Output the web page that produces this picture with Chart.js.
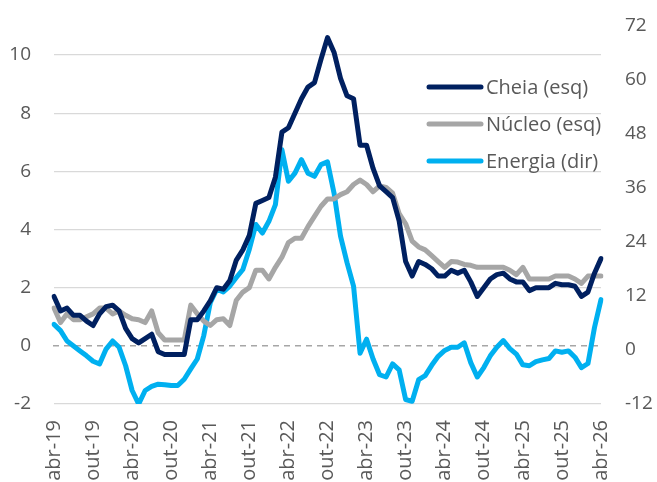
<!DOCTYPE html>
<html>
<head>
<meta charset="utf-8">
<script src="https://cdn.jsdelivr.net/npm/chart.js@4.4.1/dist/chart.umd.min.js"></script>
<style>
html, body { margin: 0; padding: 0; background: #fff; }
#wrap { width: 657px; height: 482px; }
</style>
</head>
<body>
<div id="wrap"><canvas id="inflChart" width="657" height="482"></canvas></div>
<script>
// =======================
// Dados (abr-19 a abr-26, mensal)
// =======================

const monthNames = ["jan","fev","mar","abr","mai","jun","jul","ago","set","out","nov","dez"];

const cheia = [
    1.7, 1.2, 1.3, 1.05, 1.05, 0.85, 0.7, 1.1, 1.35, 1.4, 1.2, 0.6,
    0.25, 0.1, 0.25, 0.4, -0.2, -0.3, -0.3, -0.3, -0.3, 0.9, 0.9, 1.2,
    1.55, 2.0, 1.95, 2.25, 2.95, 3.3, 3.8, 4.9, 5.0, 5.1, 5.8, 7.35,
    7.5, 8.0, 8.5, 8.9, 9.05, 9.85, 10.6, 10.1, 9.2, 8.6, 8.5, 6.9,
    6.9, 6.1, 5.5, 5.3, 5.1, 4.3, 2.9, 2.4, 2.9, 2.8, 2.65, 2.4,
    2.4, 2.6, 2.5, 2.6, 2.2, 1.7, 2.0, 2.3, 2.45, 2.5, 2.3, 2.2,
    2.2, 1.9, 2.0, 2.0, 2.0, 2.15, 2.1, 2.1, 2.05, 1.7, 1.85, 2.5,
    3.0
];

const nucleo = [
    1.3, 0.8, 1.1, 0.9, 0.9, 1.0, 1.1, 1.3, 1.3, 1.1, 1.2, 1.05,
    0.93, 0.9, 0.8, 1.2, 0.45, 0.2, 0.2, 0.2, 0.2, 1.4, 1.1, 0.85,
    0.7, 0.9, 0.93, 0.7, 1.57, 1.85, 2.0, 2.6, 2.6, 2.3, 2.7, 3.05,
    3.55, 3.7, 3.7, 4.1, 4.45, 4.8, 5.05, 5.05, 5.2, 5.3, 5.55, 5.7,
    5.55, 5.3, 5.5, 5.45, 5.25, 4.55, 4.2, 3.6, 3.4, 3.3, 3.1, 2.9,
    2.7, 2.9, 2.88, 2.8, 2.77, 2.7, 2.7, 2.7, 2.7, 2.7, 2.6, 2.45,
    2.7, 2.3, 2.3, 2.3, 2.3, 2.4, 2.4, 2.4, 2.3, 2.15, 2.4, 2.4,
    2.4
];

const energia = [
    5.7, 4.3, 2.0, 0.9, -0.2, -1.3, -2.5, -3.1, 0.2, 2.0, 0.6, -3.5,
    -9.0, -12.0, -9.0, -8.1, -7.6, -7.7, -7.9, -7.9, -6.5, -4.2, -2.0, 3.2,
    10.5, 13.5, 12.9, 14.2, 16.1, 17.9, 22.4, 27.9, 26.0, 28.6, 32.3, 44.5,
    37.5, 39.3, 42.3, 39.3, 38.6, 41.2, 41.8, 34.9, 25.3, 19.4, 14.2, -0.7,
    2.4, -2.0, -5.5, -6.0, -3.1, -4.4, -11.0, -11.4, -6.6, -5.7, -3.4, -1.4,
    -0.1, 0.6, 0.6, 1.6, -2.8, -6.0, -3.9, -1.3, 0.6, 2.1, 0.3, -0.9,
    -3.3, -3.5, -2.6, -2.2, -1.9, -0.2, -0.5, -0.2, -1.6, -3.9, -3.0, 5.0,
    11.2
];

const leftTicks = [-2, 0, 2, 4, 6, 8, 10];
const rightTicks = [-12, 0, 12, 24, 36, 48, 60, 72];

const seriesNames = ["Cheia (esq)", "Núcleo (esq)", "Energia (dir)"];
const seriesColors = ["#002060", "#a6a6a6", "#00b0f0"];

// rótulos mensais a partir de abr-19
const labels = [];
for (let i = 0; i < cheia.length; i++) {
    const m = (3 + i) % 12;
    const y = 19 + Math.floor((3 + i) / 12);
    labels.push(monthNames[m] + "-" + y);
}

const FONT = "'Open Sans', 'Noto Sans', sans-serif";
const TEXT = "#595959";

// linha tracejada no zero
const zeroLine = {
    id: "zeroLine",
    beforeDatasetsDraw(chart) {
        const y = chart.scales.y.getPixelForValue(0);
        const a = chart.chartArea;
        const ctx = chart.ctx;
        ctx.save();
        ctx.strokeStyle = "#a6a6a6";
        ctx.lineWidth = 1.5;
        ctx.setLineDash([6, 5]);
        ctx.beginPath();
        ctx.moveTo(a.left - 1, y);
        ctx.lineTo(a.right + 1, y);
        ctx.stroke();
        ctx.restore();
    }
};

// legenda dentro da área do gráfico
const insideLegend = {
    id: "insideLegend",
    afterDatasetsDraw(chart) {
        const ctx = chart.ctx;
        ctx.save();
        ctx.font = "20px " + FONT;
        ctx.textBaseline = "middle";
        ctx.textAlign = "left";
        chart.data.datasets.forEach((ds, i) => {
            const y = 87 + i * 37;
            ctx.strokeStyle = ds.borderColor;
            ctx.lineWidth = 5;
            ctx.lineCap = "round";
            ctx.beginPath();
            ctx.moveTo(429, y);
            ctx.lineTo(481, y);
            ctx.stroke();
            ctx.fillStyle = TEXT;
            ctx.fillText(ds.label, 486, y + 1);
        });
        ctx.restore();
    }
};

const lineStyle = {
    borderWidth: 5,
    pointRadius: 0,
    tension: 0,
    fill: false,
    borderJoinStyle: "round",
    borderCapStyle: "round"
};

function fitVertical(width) {
    return function (scale) {
        scale.width = width;
        scale.paddingTop = 0;
        scale.paddingBottom = 0;
    };
}

new Chart(document.getElementById("inflChart"), {
    type: "line",
    data: {
        labels: labels,
        datasets: [
            Object.assign({ label: seriesNames[0], data: cheia, borderColor: seriesColors[0], backgroundColor: seriesColors[0], yAxisID: "y" }, lineStyle),
            Object.assign({ label: seriesNames[1], data: nucleo, borderColor: seriesColors[1], backgroundColor: seriesColors[1], yAxisID: "y" }, lineStyle),
            Object.assign({ label: seriesNames[2], data: energia, borderColor: seriesColors[2], backgroundColor: seriesColors[2], yAxisID: "y2" }, lineStyle)
        ]
    },
    options: {
        responsive: false,
        animation: false,
        layout: { padding: { top: 26, left: 0, right: 0, bottom: 0 } },
        plugins: {
            legend: { display: false },
            tooltip: { enabled: false }
        },
        scales: {
            x: {
                offset: false,
                grid: { display: false, drawTicks: false },
                border: { display: false },
                afterFit(scale) { scale.height = 78; },
                ticks: {
                    autoSkip: false,
                    maxRotation: 90,
                    minRotation: 90,
                    padding: 16,
                    color: TEXT,
                    font: { family: FONT, size: 20 },
                    callback(value, index) {
                        return index % 6 === 0 ? labels[index] : "";
                    }
                }
            },
            y: {
                position: "left",
                min: -2,
                max: 11,
                afterBuildTicks(scale) { scale.ticks = leftTicks.map(v => ({ value: v })); },
                afterFit: fitVertical(54),
                grid: {
                    drawTicks: false,
                    lineWidth: 1.3,
                    color: ctx => ctx.tick && ctx.tick.value === 0 ? "rgba(0,0,0,0)" : "#d9d9d9"
                },
                border: { display: false },
                ticks: {
                    padding: 23,
                    color: TEXT,
                    font: { family: FONT, size: 19 }
                }
            },
            y2: {
                position: "right",
                min: -12,
                max: 72,
                afterBuildTicks(scale) { scale.ticks = rightTicks.map(v => ({ value: v })); },
                afterFit: fitVertical(56),
                grid: { drawOnChartArea: false, drawTicks: false },
                border: { display: false },
                ticks: {
                    padding: 24,
                    color: TEXT,
                    font: { family: FONT, size: 19 }
                }
            }
        }
    },
    plugins: [zeroLine, insideLegend]
});
</script>
</body>
</html>
